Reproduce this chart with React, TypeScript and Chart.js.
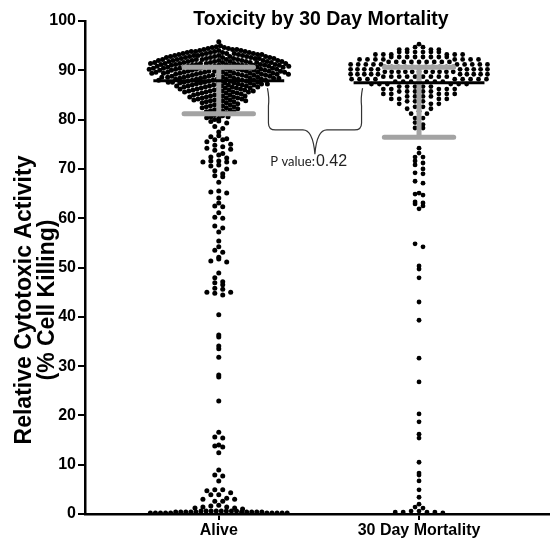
import React, { useEffect, useRef } from 'react';
import { Chart, registerables } from 'chart.js';
Chart.register(...registerables);

// ---------- data ----------
const CATEGORIES = ['Alive', '30 Day Mortality'];

// Alive: dense upper cluster (value level, number of dots at that level)
const ALIVE_LEVELS = [95.8, 95.0, 94.8, 94.6, 94.4, 94.2, 94.0, 93.8, 93.6, 93.4, 93.2, 93.0, 92.8, 92.6, 92.4, 92.2, 92.0, 91.8, 91.6, 91.4, 91.2, 91.0, 90.8, 90.6, 90.4, 90.2, 90.0, 89.8, 89.6, 89.4, 89.2, 89.0, 88.8, 88.6, 88.4, 88.2, 88.0, 87.8, 87.6, 87.4, 87.2, 87.0, 86.8, 86.6, 86.4, 86.2, 86.0, 85.8, 85.6, 85.4, 85.2, 85.0, 84.8, 84.6, 84.4, 84.2, 84.0, 83.8, 83.6, 83.4, 83.2, 83.0, 82.8, 82.6, 82.4, 82.2, 82.0, 81.8, 81.6, 81.4, 81.2, 81.0, 80.8, 80.6, 80.4, 80.2, 80.0];
const ALIVE_COUNTS = [1, 1, 1, 2, 2, 3, 3, 4, 4, 5, 5, 5, 6, 6, 6, 6, 7, 7, 7, 7, 7, 7, 7, 7, 7, 7, 7, 7, 7, 7, 7, 6, 6, 6, 6, 6, 6, 5, 5, 5, 5, 5, 5, 4, 4, 4, 4, 4, 4, 3, 3, 3, 3, 3, 3, 3, 3, 3, 2, 2, 2, 2, 2, 2, 2, 2, 2, 2, 2, 1, 1, 1, 1, 2, 1, 1, 1];
// Alive: scattered dots below the cluster
const ALIVE_SINGLE = [79.7, 79.6, 79.3, 78.6, 78.2, 77.5, 76.7, 76.5, 76.1, 75.9, 75.9, 75.5, 75.0, 74.8, 74.5, 74.2, 74.0, 73.8, 73.1, 72.8, 72.4, 72.2, 71.6, 71.6, 71.4, 71.4, 71.4, 70.8, 70.6, 70.0, 69.6, 69.0, 68.6, 68.4, 67.3, 65.5, 65.3, 65.1, 64.1, 63.1, 62.5, 62.3, 61.1, 60.2, 60.0, 58.4, 58.0, 57.2, 55.4, 54.2, 53.5, 53.1, 52.1, 51.7, 51.3, 51.1, 48.9, 47.9, 47.1, 46.9, 46.5, 45.8, 45.6, 45.0, 45.0, 44.8, 44.4, 40.4, 36.3, 35.9, 34.1, 33.5, 31.8, 28.2, 27.8, 22.9, 16.6, 15.6, 15.4, 14.0, 13.8, 13.6, 12.4, 8.9, 7.9, 7.7, 6.7, 4.9, 4.9, 4.7, 4.3, 3.9, 3.9, 3.2, 3.0, 3.0, 2.6, 2.6, 1.8, 1.6, 1.4, 1.4, 1.2, 1.2, 1.0];
// Alive: dots along the zero line
const ALIVE_LOW_LEVELS = [0.6, 0.4, 0.2];
const ALIVE_LOW_COUNTS = [8, 10, 10];

// 30 Day Mortality
const MORT_LEVELS = [95.3, 94.7, 94.2, 93.7, 93.2, 92.7, 92.2, 91.7, 91.2, 90.7, 90.2, 89.7, 89.2, 88.7, 88.2, 87.7, 87.2, 86.7, 86.2, 85.7, 85.2, 84.7, 84.2, 83.7, 83.2, 82.6, 82.2, 81.7, 81.2, 80.3, 79.4, 79.0, 78.3, 0.4];
const MORT_COUNTS = [1, 2, 4, 6, 6, 8, 8, 9, 10, 11, 10, 11, 10, 9, 9, 7, 6, 5, 5, 5, 5, 4, 4, 3, 3, 2, 2, 1, 2, 2, 1, 1, 2, 4];
const MORT_SINGLE = [74.2, 73.2, 72.4, 72.4, 71.6, 71.2, 70.8, 70.0, 69.2, 69.0, 67.5, 67.1, 65.1, 64.9, 64.7, 63.3, 63.1, 62.9, 62.5, 61.9, 54.8, 54.2, 50.3, 49.7, 47.9, 43.0, 39.3, 31.6, 26.8, 20.3, 18.7, 16.2, 15.4, 10.5, 8.3, 7.9, 6.7, 4.9, 3.4, 2.0, 1.4, 1.2, 0.6, 0.6, 0.2];

// summary lines (median and interquartile range)
const MEDIANS = [87.9, 87.5];
const Q1 = [81.2, 76.4];
const Q3 = [90.6, 90.6];
const P_VALUE = '0.42';

// ---------- layout constants ----------
const X_MIN = -0.668;
const X_MAX = 1.649;
const PX_PER_UNIT = 468 / (X_MAX - X_MIN);
const PX_PER_Y = 493 / 100;
const DOT_STEP = 8 / PX_PER_UNIT;
const MAX_SPAN = 138 / PX_PER_UNIT;
const DOT_D = 4.3;
const MEDIAN_HALF = 66 / PX_PER_UNIT;
const CAP_HALF = 35 / PX_PER_UNIT;
// brace annotation (data units)
const BRACE_LEFT = 0.248;
const BRACE_RIGHT = 0.713;
const BRACE_MID = 0.48;
const BRACE_TOP = 86.4;
const BRACE_BAR = 77.9;
const BRACE_TIP = 73.0;
const PTEXT_Y = 70.6;

function expand(levels: number[], counts: number[]) {
  const out: number[] = [];
  levels.forEach((v, i) => { for (let k = 0; k < counts[i]; k++) out.push(v); });
  return out;
}

// row layout: values grouped in 1-unit rows, spread evenly around the centre
function rowSwarm(values: number[], center: number) {
  const bins = new Map<number, number[]>();
  values.forEach((v) => {
    const k = Math.floor(v);
    if (!bins.has(k)) bins.set(k, []);
    bins.get(k)!.push(v);
  });
  const pts: { x: number; y: number }[] = [];
  bins.forEach((arr) => {
    arr.sort((a, b) => b - a);
    const n = arr.length;
    const step = n > 1 ? Math.min(DOT_STEP, MAX_SPAN / (n - 1)) : 0;
    const slots: number[] = [];
    for (let i = 0; i < n; i++) slots.push((i - (n - 1) / 2) * step);
    slots.sort((a, b) => Math.abs(a) - Math.abs(b) || a - b);
    arr.forEach((v, i) => pts.push({ x: center + slots[i], y: v }));
  });
  return pts;
}

// packed layout: each dot nearest to the centre without overlapping earlier dots
function packedSwarm(values: number[], center: number) {
  const sorted = [...values].sort((a, b) => b - a);
  const placed: { x: number; y: number }[] = [];
  const pts: { x: number; y: number }[] = [];
  const d = DOT_D;
  sorted.forEach((v, idx) => {
    const y = v * PX_PER_Y;
    const near = placed.filter((p) => Math.abs(p.y - y) < d);
    const cands = [0];
    near.forEach((p) => {
      const dx = Math.sqrt(d * d - (p.y - y) * (p.y - y));
      cands.push(p.x + dx, p.x - dx);
    });
    const sgn = idx % 2 === 0 ? 1 : -1;
    cands.sort((a, b) => Math.abs(a) - Math.abs(b) || (a - b) * sgn);
    let x = 0;
    for (const c of cands) {
      if (near.every((p) => (p.x - c) * (p.x - c) + (p.y - y) * (p.y - y) >= d * d - 0.01)) { x = c; break; }
    }
    placed.push({ x, y });
    pts.push({ x: center + x / PX_PER_UNIT, y: v });
  });
  return pts;
}

const FONT = "'Liberation Sans', Arial, sans-serif";

const overlay = {
  id: 'overlay',
  afterDatasetsDraw(chart: any) {
    const ctx = chart.ctx;
    const xs = chart.scales.x;
    const ys = chart.scales.y;
    ctx.save();
    // IQR bars (gray)
    ctx.strokeStyle = '#a3a3a3';
    ctx.lineWidth = 5;
    ctx.lineCap = 'round';
    for (let i = 0; i < CATEGORIES.length; i++) {
      const cx = xs.getPixelForValue(i);
      const yl = ys.getPixelForValue(Q1[i]);
      const yh = ys.getPixelForValue(Q3[i]);
      ctx.beginPath();
      ctx.moveTo(cx, yl); ctx.lineTo(cx, yh);
      ctx.moveTo(xs.getPixelForValue(i - CAP_HALF), yl); ctx.lineTo(xs.getPixelForValue(i + CAP_HALF), yl);
      ctx.moveTo(xs.getPixelForValue(i - CAP_HALF), yh); ctx.lineTo(xs.getPixelForValue(i + CAP_HALF), yh);
      ctx.stroke();
    }
    // medians (black)
    ctx.strokeStyle = '#000';
    ctx.lineWidth = 3;
    ctx.lineCap = 'butt';
    for (let i = 0; i < CATEGORIES.length; i++) {
      const y = ys.getPixelForValue(MEDIANS[i]);
      ctx.beginPath();
      ctx.moveTo(xs.getPixelForValue(i - MEDIAN_HALF), y);
      ctx.lineTo(xs.getPixelForValue(i + MEDIAN_HALF), y);
      ctx.stroke();
    }
    // brace
    const xl = xs.getPixelForValue(BRACE_LEFT);
    const xr = xs.getPixelForValue(BRACE_RIGHT);
    const xm = xs.getPixelForValue(BRACE_MID);
    const yt = ys.getPixelForValue(BRACE_TOP);
    const yb = ys.getPixelForValue(BRACE_BAR);
    const ytip = ys.getPixelForValue(BRACE_TIP);
    const r = 7;
    ctx.strokeStyle = '#333';
    ctx.lineWidth = 1.2;
    ctx.beginPath();
    ctx.moveTo(xl - 1, yt);
    ctx.quadraticCurveTo(xl + 1, yt + 10, xl, yt + 18);
    ctx.lineTo(xl, yb - r);
    ctx.quadraticCurveTo(xl, yb, xl + r, yb);
    ctx.lineTo(xm - 12, yb);
    ctx.quadraticCurveTo(xm - 2, yb, xm, ytip);
    ctx.quadraticCurveTo(xm + 2, yb, xm + 12, yb);
    ctx.lineTo(xr - r, yb);
    ctx.quadraticCurveTo(xr, yb, xr, yb - r);
    ctx.lineTo(xr, yt + 18);
    ctx.quadraticCurveTo(xr - 1, yt + 10, xr + 1, yt);
    ctx.stroke();
    // p value text
    const py = ys.getPixelForValue(PTEXT_Y);
    ctx.fillStyle = '#222';
    ctx.textBaseline = 'alphabetic';
    ctx.font = "13px Lato, 'Liberation Sans', sans-serif";
    ctx.textAlign = 'right';
    ctx.fillText('P value:', xm, py);
    ctx.font = `16px ${FONT}`;
    ctx.textAlign = 'left';
    ctx.fillText(P_VALUE, xm + 1, py);
    // chart title
    ctx.fillStyle = '#000';
    ctx.font = `bold 19.5px ${FONT}`;
    ctx.textAlign = 'center';
    ctx.fillText('Toxicity by 30 Day Mortality', 321, 25);
    // y-axis title (two lines, rotated)
    ctx.save();
    ctx.translate(0, 300);
    ctx.rotate(-Math.PI / 2);
    ctx.font = `bold 23px ${FONT}`;
    ctx.textAlign = 'center';
    ctx.textBaseline = 'middle';
    ctx.fillText('Relative Cytotoxic Activity', 0, 25);
    ctx.fillText('(% Cell Killing)', 0, 48);
    ctx.restore();
    ctx.restore();
  },
};

export default function App() {
  const ref = useRef<HTMLCanvasElement>(null);
  useEffect(() => {
    const canvas = ref.current!;
    const alive = packedSwarm(expand(ALIVE_LEVELS, ALIVE_COUNTS), 0)
      .concat(rowSwarm(ALIVE_SINGLE.concat(expand(ALIVE_LOW_LEVELS, ALIVE_LOW_COUNTS)), 0));
    const mort = rowSwarm(expand(MORT_LEVELS, MORT_COUNTS).concat(MORT_SINGLE), 1);
    const chart = new Chart(canvas, {
      type: 'scatter',
      data: {
        datasets: [
          { label: CATEGORIES[0], data: alive, pointRadius: 2.5, backgroundColor: '#000', borderWidth: 0 },
          { label: CATEGORIES[1], data: mort, pointRadius: 2.4, backgroundColor: '#000', borderWidth: 0 },
        ],
      },
      options: {
        responsive: false,
        animation: false,
        layout: { padding: { top: 21, right: 0, left: 0, bottom: 0 } },
        plugins: { legend: { display: false }, tooltip: { enabled: false }, title: { display: false } },
        scales: {
          x: {
            type: 'linear',
            min: X_MIN,
            max: X_MAX,
            afterBuildTicks: (s: any) => { s.ticks = CATEGORIES.map((_, i) => ({ value: i })); },
            ticks: {
              callback: (v: any) => CATEGORIES[v] ?? '',
              font: { family: FONT, weight: 'bold', size: 16 },
              color: '#000',
              padding: 1,
              maxRotation: 0,
              autoSkip: false,
            },
            grid: { display: true, drawOnChartArea: false, drawTicks: true, tickLength: 6, color: '#000', lineWidth: 2 },
            border: { display: true, color: '#000', width: 2.5 },
            afterFit: (s: any) => { s.height = 24; },
          },
          y: {
            min: 0,
            max: 100,
            ticks: { stepSize: 10, font: { family: FONT, weight: 'bold', size: 16 }, color: '#000', padding: 2 },
            grid: { display: true, drawOnChartArea: false, drawTicks: true, tickLength: 7, color: '#000', lineWidth: 2 },
            border: { display: true, color: '#000', width: 2.5 },
            title: { display: false },
            afterFit: (s: any) => { s.width = 85; },
          },
        },
      },
      plugins: [overlay],
    } as any);
    return () => chart.destroy();
  }, []);
  return (
    <div style={{ position: 'absolute', left: 0, top: 0, width: 553, height: 538, background: '#fff' }}>
      <canvas ref={ref} width={553} height={538} style={{ display: 'block', width: 553, height: 538 }} />
    </div>
  );
}
